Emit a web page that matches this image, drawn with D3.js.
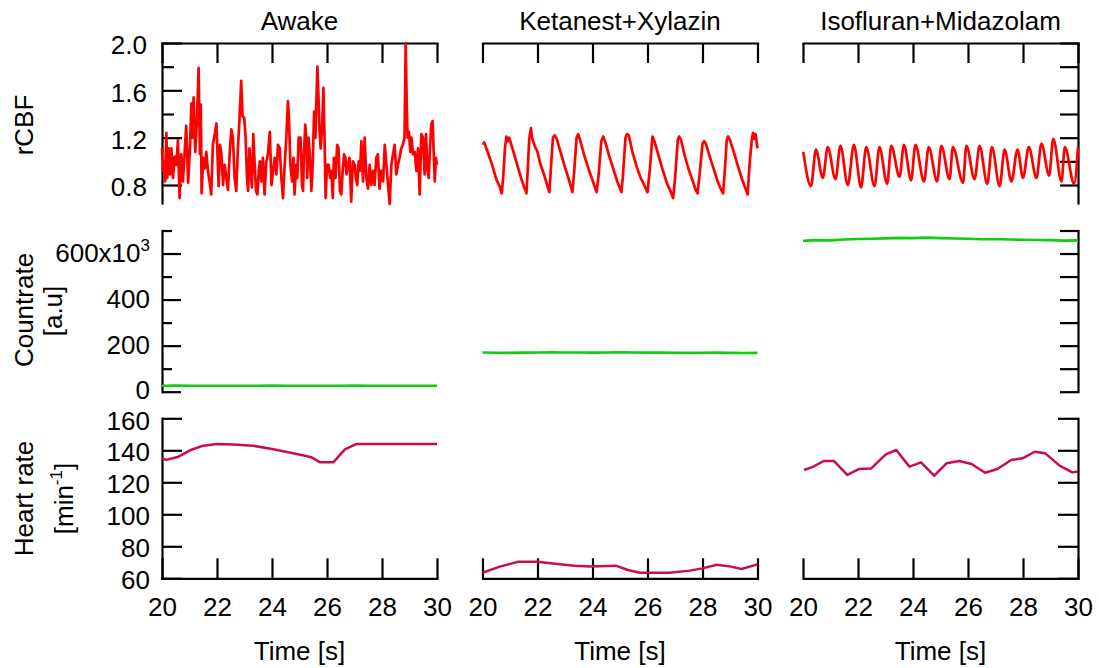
<!DOCTYPE html>
<html>
<head>
<meta charset="utf-8">
<script src="https://cdn.jsdelivr.net/npm/d3@7"></script>
<style>
  html, body { margin: 0; padding: 0; background: #fff; }
  svg { display: block; }
</style>
</head>
<body>
<script>
// ---- data -------------------------------------------------------------
const panelTitles = ["Awake", "Ketanest+Xylazin", "Isofluran+Midazolam"];
const timeTicks = [20, 22, 24, 26, 28, 30];
const rcbfMajorTicks = [0.8, 1.2, 1.6, 2.0];
const rcbfMinorTicks = [1.0, 1.4, 1.8];
const countMajorTicks = [0, 200000, 400000, 600000];
const countMinorTicks = [100000, 300000, 500000, 700000];
const hrTicks = [60, 80, 100, 120, 140, 160];

// relative cerebral blood flow, [time s, rCBF]
const rcbfAwake = [
  [20.00,1.11],[20.04,0.92],[20.07,1.00],[20.11,0.83],[20.16,1.24],[20.19,0.86],[20.24,1.11],[20.29,0.89],
  [20.34,1.11],[20.40,0.86],[20.46,1.04],[20.52,0.97],[20.58,1.18],[20.64,0.69],[20.70,1.06],[20.76,0.83],
  [20.82,1.06],[20.88,1.30],[20.95,0.82],[21.01,1.08],[21.07,1.49],[21.10,1.20],[21.15,1.54],[21.21,1.08],
  [21.27,1.34],[21.33,1.79],[21.38,1.06],[21.41,1.48],[21.44,0.73],[21.50,1.03],[21.56,0.94],[21.61,1.08],
  [21.67,0.92],[21.73,0.83],[21.79,0.72],[21.85,1.14],[21.92,1.23],[21.98,1.32],[22.01,1.11],[22.06,0.79],
  [22.11,1.14],[22.16,1.06],[22.22,0.80],[22.28,0.97],[22.34,0.86],[22.40,0.76],[22.46,1.06],[22.52,1.27],
  [22.58,1.20],[22.64,0.86],[22.70,0.75],[22.76,1.11],[22.82,1.37],[22.88,1.68],[22.93,1.38],[22.99,1.37],
  [23.04,1.20],[23.09,0.86],[23.13,0.75],[23.18,1.11],[23.22,0.92],[23.27,0.78],[23.32,1.23],[23.37,0.97],
  [23.42,0.75],[23.47,0.72],[23.52,0.92],[23.56,1.00],[23.61,0.83],[23.67,1.03],[23.73,0.72],[23.79,0.99],
  [23.85,1.06],[23.92,1.25],[23.98,0.80],[24.04,0.92],[24.10,1.03],[24.16,0.89],[24.22,1.14],[24.28,1.11],
  [24.34,0.86],[24.40,0.69],[24.46,0.97],[24.52,1.20],[24.58,1.51],[24.62,1.34],[24.67,0.97],[24.73,0.83],
  [24.78,1.03],[24.82,0.72],[24.87,0.97],[24.92,0.86],[24.97,1.20],
  [25.04,1.20],[25.09,0.80],[25.13,0.75],[25.16,1.06],[25.21,1.31],[25.25,1.17],[25.28,0.86],[25.33,1.20],
  [25.38,1.03],[25.43,0.75],[25.48,0.97],[25.53,1.42],[25.58,1.20],[25.61,1.48],[25.65,1.80],[25.70,1.48],
  [25.73,1.25],[25.77,1.11],[25.82,1.28],[25.87,1.62],[25.91,1.20],[25.95,0.69],[26.00,0.97],[26.06,0.97],
  [26.11,0.86],[26.16,0.92],[26.21,0.69],[26.25,1.03],[26.31,0.86],[26.37,1.14],[26.42,1.11],[26.47,0.75],
  [26.52,0.72],[26.57,0.92],[26.62,1.06],[26.67,1.03],[26.71,0.89],[26.76,0.97],[26.82,1.03],[26.88,0.66],
  [26.94,1.00],[27.01,0.97],[27.05,0.86],[27.10,0.80],[27.15,1.00],[27.20,0.92],[27.25,1.17],[27.31,0.83],
  [27.37,1.20],[27.43,0.86],[27.49,0.77],[27.55,0.97],[27.61,0.80],[27.67,0.92],[27.73,0.80],[27.79,1.03],
  [27.85,1.06],[27.91,0.77],[27.97,0.92],[28.04,0.83],[28.10,1.14],[28.16,0.97],[28.22,0.80],[28.28,0.64],
  [28.34,0.97],[28.40,1.06],[28.46,1.14],[28.52,0.89],[28.58,0.97],[28.64,1.03],[28.70,1.11],[28.76,1.14],
  [28.82,1.20],[28.86,2.00],[28.90,1.48],[28.93,1.20],[28.98,1.25],[29.03,1.08],[29.07,1.20],[29.13,1.06],
  [29.19,1.08],[29.25,0.92],[29.31,1.11],[29.37,0.72],[29.43,1.23],[29.49,1.20],[29.55,0.89],[29.60,1.23],
  [29.65,0.94],[29.70,0.86],[29.74,1.08],[29.79,1.31],[29.84,1.34],[29.88,1.08],[29.92,0.83],[29.96,1.03],
  [30.00,0.97]
];
const rcbfKetanest = [
  [20.02,1.14],[20.06,1.16],[20.20,1.07],[20.35,0.97],[20.50,0.85],[20.62,0.79],[20.70,0.73],[20.75,0.86],
  [20.82,1.12],[20.87,1.21],[20.92,1.17],[20.97,1.20],[21.10,1.10],[21.25,0.98],[21.40,0.86],[21.52,0.78],
  [21.60,0.73],[21.66,1.00],[21.70,1.19],[21.76,1.28],[21.80,1.20],[21.90,1.13],[22.00,1.08],[22.10,0.98],
  [22.25,0.88],[22.35,0.80],[22.43,0.74],[22.50,0.98],[22.56,1.20],[22.62,1.22],[22.70,1.19],[22.85,1.07],
  [23.00,0.95],[23.15,0.84],[23.27,0.74],[23.33,0.90],[23.42,1.20],[23.48,1.23],[23.55,1.18],[23.70,1.05],
  [23.85,0.94],[24.00,0.84],[24.15,0.74],[24.22,0.88],[24.32,1.17],[24.39,1.21],[24.47,1.16],[24.60,1.05],
  [24.75,0.94],[24.90,0.83],[25.05,0.74],[25.10,0.86],[25.20,1.20],[25.26,1.23],[25.32,1.22],[25.45,1.08],
  [25.60,0.96],[25.75,0.86],[25.90,0.79],[26.00,0.74],[26.08,0.92],[26.18,1.21],[26.25,1.17],[26.40,1.05],
  [26.55,0.93],[26.70,0.82],[26.85,0.74],[26.93,0.69],[27.00,0.85],[27.10,1.18],[27.15,1.21],[27.22,1.18],
  [27.35,1.05],[27.50,0.93],[27.65,0.83],[27.75,0.76],[27.82,0.73],[27.90,0.90],[28.00,1.15],[28.06,1.17],
  [28.12,1.15],[28.25,1.05],[28.40,0.94],[28.55,0.83],[28.68,0.76],[28.75,0.73],[28.82,0.95],[28.88,1.18],
  [28.93,1.21],[29.00,1.18],[29.15,1.07],[29.30,0.95],[29.45,0.84],[29.58,0.76],[29.64,0.72],[29.72,1.00],
  [29.80,1.20],[29.84,1.24],[29.88,1.19],[29.93,1.23],[30.00,1.11]
];
const rcbfIsofluran = [
  [20.01,1.08],[20.29,0.79],[20.47,1.10],[20.72,0.86],[20.90,1.12],[21.18,0.85],[21.36,1.13],[21.63,0.80],
  [21.85,1.14],[22.11,0.78],[22.30,1.12],[22.60,0.79],[22.78,1.12],[23.06,0.81],[23.21,1.13],[23.51,0.87],
  [23.67,1.14],[23.93,0.84],[24.09,1.14],[24.40,0.83],[24.57,1.12],[24.88,0.83],[25.03,1.13],[25.33,0.85],
  [25.45,1.12],[25.82,0.82],[25.94,1.13],[26.24,0.85],[26.42,1.13],[26.70,0.81],[26.87,1.12],[27.15,0.79],
  [27.33,1.10],[27.58,0.83],[27.80,1.10],[28.00,0.86],[28.21,1.12],[28.49,0.86],[28.67,1.15],[28.95,0.88],
  [29.10,1.19],[29.40,0.83],[29.52,1.12],[29.86,0.81],[30.00,1.12]
];

// detector count rate [counts], sampled every 0.5 s
const countTimes = [20,20.5,21,21.5,22,22.5,23,23.5,24,24.5,25,25.5,26,26.5,27,27.5,28,28.5,29,29.5,30];
const countAwake = [26000,26200,25900,26100,26000,25800,26100,26000,26200,25900,26000,26100,25900,26000,26200,26000,25900,26100,26000,25900,26000];
const countKetanest = [170000,169000,168500,169500,170500,171000,170000,170500,169500,170000,171000,170500,169500,170000,169000,168500,169000,169500,168500,168000,168500];
const countIsofluran = [655000,658000,657000,661000,663000,664000,666000,668000,667000,669000,667000,665000,664000,662000,663000,661000,660000,659000,658000,656000,657000];

// heart rate [1/min], [time s, rate]
const hrAwake = [
  [20.00,135.0],[20.15,134.0],[20.60,136.0],[21.02,140.0],[21.50,142.9],[22.00,144.0],[22.60,143.7],
  [23.30,142.9],[24.05,140.6],[24.77,138.1],[25.44,135.6],[25.75,132.5],[26.23,132.5],[26.65,140.6],
  [27.08,144.0],[30.00,144.0]
];
const hrKetanest = [
  [20.00,63.5],[20.63,67.3],[21.31,70.4],[21.98,70.4],[22.73,68.9],[23.33,67.9],[23.93,67.3],[24.84,67.9],
  [25.29,65.2],[25.73,63.5],[26.79,63.5],[27.54,64.8],[27.99,66.2],[28.52,68.5],[29.04,67.3],[29.42,65.8],
  [30.00,68.7]
];
const hrIsofluran = [
  [20.04,127.7],[20.38,129.8],[20.75,133.3],[21.13,133.3],[21.61,124.6],[22.03,128.3],[22.48,128.7],
  [23.01,137.5],[23.39,140.2],[23.87,129.8],[24.29,132.5],[24.77,124.1],[25.22,131.9],[25.68,133.3],
  [26.13,131.4],[26.62,126.0],[27.07,128.3],[27.57,133.9],[27.98,135.0],[28.43,139.1],[28.81,138.1],
  [29.33,130.4],[29.79,126.2],[30.00,126.8]
];

// ---- layout & styles ----------------------------------------------------
const FONT = '"Liberation Sans", Arial, Helvetica, sans-serif';
const FS = 26;
const RED = "#ff0000", GREEN = "#12cc12", HR = "#cc0a55";
const panelLeft = [162, 482.5, 803];
const panelW = 275;

const svg = d3.select("body").append("svg")
  .attr("width", 1099).attr("height", 668)
  .attr("font-family", FONT).attr("font-size", FS);

const xs = panelLeft.map(l => d3.scaleLinear().domain([20, 30]).range([l, l + panelW]));
const yR = d3.scaleLinear().domain([0.648, 2.0]).range([203, 43]);
const yC = d3.scaleLinear().domain([0, 700000]).range([391.7, 230.5]);
const yH = d3.scaleLinear().domain([60, 160]).range([578.3, 418.3]);

function styleAxis(g, keepDomain = true) {
  g.attr("font-family", FONT).attr("font-size", FS);
  if (keepDomain) {
    g.select("path.domain").attr("stroke", "#000").attr("stroke-width", 2.2).attr("stroke-linecap", "square");
  } else {
    g.select("path.domain").remove();
  }
  g.selectAll(".tick line").attr("stroke", "#000").attr("stroke-width", 2.2);
  g.selectAll(".tick text").attr("fill", "#000");
  return g;
}

// ---- titles ------------------------------------------------------------
panelTitles.forEach((t, i) => {
  svg.append("text").attr("x", panelLeft[i] + panelW / 2).attr("y", 30)
    .attr("text-anchor", "middle").attr("fill", "#000").text(t);
});

// ---- top row: rCBF -------------------------------------------------------
xs.forEach((x, i) => {
  svg.append("g").attr("transform", "translate(0,43)")
    .call(d3.axisTop(x).tickValues(timeTicks).tickSizeInner(-20).tickSizeOuter(0).tickFormat(""))
    .call(styleAxis);
});
svg.append("g").attr("transform", `translate(${panelLeft[0]},0)`)
  .call(d3.axisLeft(yR).tickValues(rcbfMajorTicks).tickSizeInner(-20).tickSizeOuter(0)
    .tickPadding(15).tickFormat(d3.format(".1f")))
  .call(styleAxis)
  .selectAll(".tick text").attr("dy", "0.42em");
svg.append("g").attr("transform", `translate(${panelLeft[0]},0)`)
  .call(d3.axisLeft(yR).tickValues(rcbfMinorTicks).tickSizeInner(-12).tickSizeOuter(0).tickFormat(""))
  .call(g => styleAxis(g, false));
svg.append("g").attr("transform", `translate(${panelLeft[2] + panelW},0)`)
  .call(d3.axisRight(yR).tickValues(rcbfMajorTicks.concat(rcbfMinorTicks)).tickSizeInner(-18).tickSizeOuter(0).tickFormat(""))
  .call(styleAxis);

const rcbfSeries = [rcbfAwake, rcbfKetanest, rcbfIsofluran];
rcbfSeries.forEach((s, i) => {
  const line = d3.line().x(d => xs[i](d[0])).y(d => yR(d[1]));
  if (i === 2) line.curve(d3.curveMonotoneX);
  svg.append("path").datum(s).attr("d", line)
    .attr("fill", "none").attr("stroke", RED).attr("stroke-width", 2.7)
    .attr("stroke-linejoin", "round");
});

// ---- middle row: count rate ----------------------------------------------
const countAxis = svg.append("g").attr("transform", `translate(${panelLeft[0]},0)`)
  .call(d3.axisLeft(yC).tickValues(countMajorTicks).tickSizeInner(-19).tickSizeOuter(0)
    .tickPadding(12).tickFormat(d => d / 1000))
  .call(styleAxis);
countAxis.selectAll(".tick text").attr("dy", "0.3em");
countAxis.selectAll(".tick").filter(d => d === 0).select("text").attr("dy", "0.26em");
countAxis.selectAll(".tick").filter(d => d === 600000).select("text")
  .text(null)
  .call(t => {
    t.append("tspan").text("600x10");
    t.append("tspan").attr("dy", -11).attr("font-size", 17).text("3");
  });
svg.append("g").attr("transform", `translate(${panelLeft[0]},0)`)
  .call(d3.axisLeft(yC).tickValues(countMinorTicks).tickSizeInner(-10).tickSizeOuter(0).tickFormat(""))
  .call(g => styleAxis(g, false));
svg.append("g").attr("transform", `translate(${panelLeft[2] + panelW},0)`)
  .call(d3.axisRight(yC).tickValues(countMajorTicks.concat(countMinorTicks)).tickSizeInner(-18).tickSizeOuter(0).tickFormat(""))
  .call(styleAxis);

[countAwake, countKetanest, countIsofluran].forEach((vals, i) => {
  const pts = countTimes.map((t, k) => [t, vals[k]]);
  const line = d3.line().x(d => xs[i](d[0])).y(d => yC(d[1]));
  svg.append("path").datum(pts).attr("d", line)
    .attr("fill", "none").attr("stroke", GREEN).attr("stroke-width", 2.6);
});

// ---- bottom row: heart rate ----------------------------------------------
xs.forEach(x => {
  svg.append("g").attr("transform", "translate(0,578.3)")
    .call(d3.axisBottom(x).tickValues(timeTicks).tickSizeInner(-20).tickSizeOuter(0).tickPadding(19))
    .call(styleAxis);
});
const hrAxis = svg.append("g").attr("transform", `translate(${panelLeft[0]},0)`)
  .call(d3.axisLeft(yH).tickValues(hrTicks).tickSizeInner(-20).tickSizeOuter(0).tickPadding(12))
  .call(styleAxis);
hrAxis.selectAll(".tick text").attr("dy", "0.4em");
hrAxis.selectAll(".tick").filter(d => d === 160).select("text").attr("dy", "0.44em");
svg.append("g").attr("transform", `translate(${panelLeft[2] + panelW},0)`)
  .call(d3.axisRight(yH).tickValues(hrTicks).tickSizeInner(-20).tickSizeOuter(0).tickFormat(""))
  .call(styleAxis);

[hrAwake, hrKetanest, hrIsofluran].forEach((s, i) => {
  const line = d3.line().x(d => xs[i](d[0])).y(d => yH(d[1]));
  svg.append("path").datum(s).attr("d", line)
    .attr("fill", "none").attr("stroke", HR).attr("stroke-width", 2.5)
    .attr("stroke-linejoin", "round");
});

// x axis titles
panelLeft.forEach(l => {
  svg.append("text").attr("x", l + panelW / 2).attr("y", 660)
    .attr("text-anchor", "middle").attr("fill", "#000").text("Time [s]");
});

// ---- y axis titles -----------------------------------------------------
function vLabel(x, y, txt) {
  return svg.append("text").attr("transform", `translate(${x},${y}) rotate(-90)`)
    .attr("text-anchor", "middle").attr("fill", "#000").text(txt);
}
vLabel(33, 125, "rCBF");
vLabel(33, 310, "Countrate");
vLabel(62, 311, "[a.u]");
vLabel(33, 498.5, "Heart rate");
const hrUnit = vLabel(73, 498.5, null);
hrUnit.append("tspan").text("[min");
hrUnit.append("tspan").attr("dy", -11).attr("font-size", 17).text("-1");
hrUnit.append("tspan").attr("dy", 11).text("]");
</script>
</body>
</html>
